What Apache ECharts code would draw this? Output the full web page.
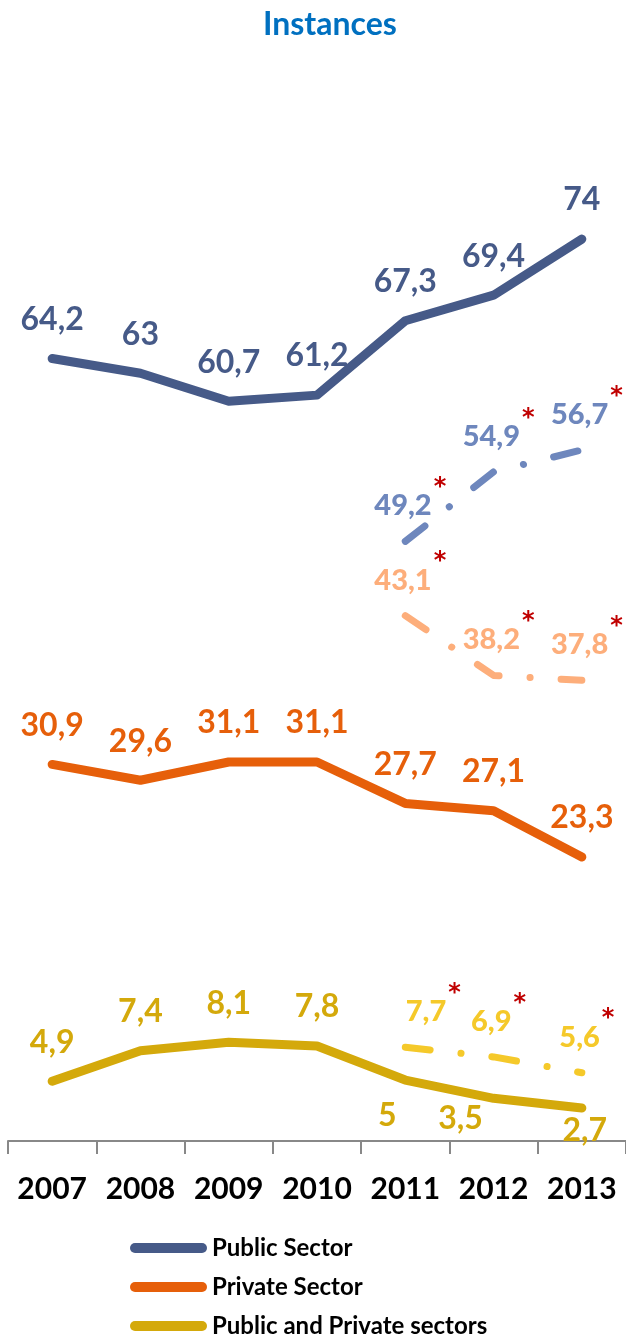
<!DOCTYPE html>
<html>
<head>
<meta charset="utf-8">
<script src="https://cdn.jsdelivr.net/npm/echarts@6/dist/echarts.min.js"></script>
<style>
html,body{margin:0;padding:0;background:#fff;}
#chart{width:626px;height:1340px;}
</style>
</head>
<body>
<div id="chart"></div>
<script>
var years = ['2007','2008','2009','2010','2011','2012','2013'];
var publicSector = [64.2, 63, 60.7, 61.2, 67.3, 69.4, 74];
var privateSector = [30.9, 29.6, 31.1, 31.1, 27.7, 27.1, 23.3];
var publicPrivate = [4.9, 7.4, 8.1, 7.8, 5, 3.5, 2.7];
var publicAlt = [null, null, null, null, 49.2, 54.9, 56.7];
var privateAlt = [null, null, null, null, 43.1, 38.2, 37.8];
var publicPrivateAlt = [null, null, null, null, 7.7, 6.9, 5.6];
var seriesNames = ['Public Sector', 'Private Sector', 'Public and Private sectors'];

var FONT = 'Lato';
var cPub = '#465A88', cPriv = '#E65F0A', cMix = '#D4A90B';
var cPubL = '#6E87BD', cPrivL = '#FDAE7B', cMixL = '#F5C92A';

function fmt(v){ return String(v).replace('.', ','); }

function mainLabel(color){
  return {show:true, position:'top', distance:23, color:color, fontFamily:FONT,
    fontWeight:'bold', fontSize:32, formatter:function(p){return fmt(p.value);}};
}
function altLabel(color){
  return {show:true, position:'top', distance:21, offset:[5,0], color:color, fontFamily:FONT,
    fontWeight:'bold', fontSize:29,
    formatter:function(p){ return '{v|'+fmt(p.value)+'}{s|*}'; },
    rich:{
      v:{color:color, fontFamily:FONT, fontWeight:900, fontSize:29, lineHeight:29},
      s:{color:'#C00000', fontFamily:'DejaVu Sans', fontWeight:'bold', fontSize:24, lineHeight:24, padding:[0,0,36,2]}
    }};
}
function altData(arr, offsets){
  return arr.map(function(v,i){
    if (v === null) return null;
    if (offsets && offsets[i]) return {value:v, label:{offset:offsets[i]}};
    return v;
  });
}
var dashPattern = [25, 31, 0.1, 31];

var mixData = publicPrivate.map(function(v,i){
  var o = {4:[-18,16], 5:[-33,0], 6:[3,3]};
  if (o[i]) return {value:v, label:{position:'bottom', distance:4, offset:o[i]}};
  return v;
});

function sym(){ return {symbol:'circle', symbolSize:0, showSymbol:true}; }

var chart = echarts.init(document.getElementById('chart'), null, {renderer:'canvas'});
var mk = function(base, extra){ for (var k in extra) base[k] = extra[k]; return base; };
chart.setOption({
  animation:false,
  backgroundColor:'#fff',
  title:{text:'Instances', left:258, top:4,
    textStyle:{color:'#0070C0', fontFamily:FONT, fontWeight:'bold', fontSize:32}},
  legend:{
    data:seriesNames, orient:'vertical', left:130, top:1236, padding:0,
    itemWidth:77, itemHeight:10, itemGap:15,
    icon:'path://M5,0 L72,0 A5,5 0 0 1 72,10 L5,10 A5,5 0 0 1 5,0 Z',
    textStyle:{color:'#000', fontFamily:FONT, fontWeight:'bold', fontSize:24, lineHeight:24}
  },
  grid:{left:8, right:0, top:166, bottom:199, containLabel:false},
  xAxis:{
    type:'category', data:years, boundaryGap:true,
    axisLine:{lineStyle:{color:'#888', width:2}},
    axisTick:{show:true, length:13, interval:0, lineStyle:{color:'#888', width:2}},
    axisLabel:{color:'#000', fontFamily:FONT, fontWeight:'bold', fontSize:30, margin:33, interval:0}
  },
  yAxis:{type:'value', min:0, max:80, show:false, splitLine:{show:false}},
  series:[
    mk({name:seriesNames[0], type:'line', data:publicSector, z:5,
      lineStyle:{color:cPub, width:9, cap:'round', join:'round'}, itemStyle:{color:cPub},
      label:mainLabel(cPub)}, sym()),
    mk({name:seriesNames[1], type:'line', data:privateSector, z:5,
      lineStyle:{color:cPriv, width:9, cap:'round', join:'round'}, itemStyle:{color:cPriv},
      label:mainLabel(cPriv)}, sym()),
    mk({name:seriesNames[2], type:'line', data:mixData, z:5,
      lineStyle:{color:cMix, width:9, cap:'round', join:'round'}, itemStyle:{color:cMix},
      label:mainLabel(cMix)}, sym()),
    mk({name:'pubAlt', type:'line', data:altData(publicAlt), z:4,
      lineStyle:{color:cPubL, width:7, type:dashPattern, cap:'round', join:'round'}, itemStyle:{color:cPubL},
      label:altLabel(cPubL)}, sym()),
    mk({name:'privAlt', type:'line', data:altData(privateAlt), z:4,
      lineStyle:{color:cPrivL, width:7, type:dashPattern, cap:'round', join:'round'}, itemStyle:{color:cPrivL},
      label:altLabel(cPrivL)}, sym()),
    mk({name:'mixAlt', type:'line', data:altData(publicPrivateAlt, {4:[28,0]}), z:4,
      lineStyle:{color:cMixL, width:7, type:dashPattern, cap:'round', join:'round'}, itemStyle:{color:cMixL},
      label:altLabel(cMixL)}, sym())
  ]
});
</script>
</body>
</html>
